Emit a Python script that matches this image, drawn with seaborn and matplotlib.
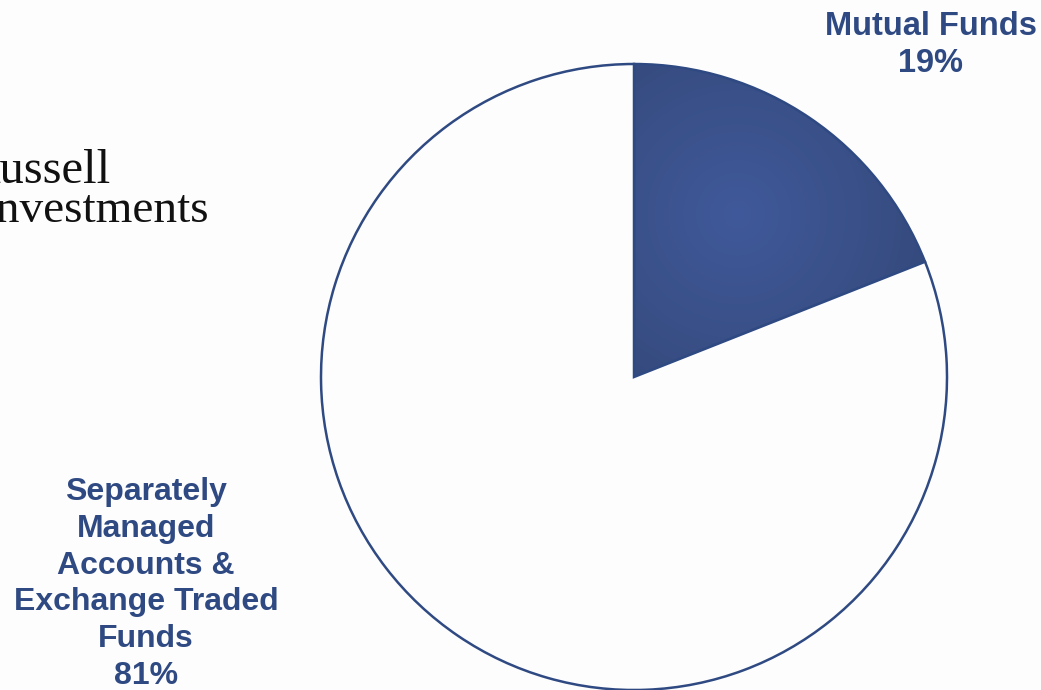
import numpy as np
import matplotlib
matplotlib.use("Agg")
import matplotlib.pyplot as plt
import seaborn as sns

sns.set_theme(style="white")
plt.rcParams['font.family'] = ['Liberation Sans', 'DejaVu Sans']

labels = ["Mutual Funds", "Separately\nManaged\nAccounts &\nExchange Traded\nFunds"]
shares = [19, 81]

navy = "#2F4A82"
fill_mid = "#40599A"
fill_edge = "#334878"

fig = plt.figure(figsize=(10.41, 6.90), dpi=100)
fig.patch.set_facecolor("#FDFDFD")
ax = fig.add_axes([0, 0, 1, 1])
ax.set_facecolor("#FDFDFD")

cx, cy, r = 634, 690 - 377, 313
wedges, _ = ax.pie(shares, colors=["none", "#FDFDFD"], startangle=90, counterclock=False,
                   center=(cx, cy), radius=r, frame=True,
                   wedgeprops=dict(edgecolor=navy, linewidth=1.8))
ax.set_xlim(0, 1041)
ax.set_ylim(0, 690)
ax.set_aspect("equal")
ax.set_axis_off()

# radial gradient for the mutual funds slice
gx = np.linspace(cx, cx + r, 300)
gy = np.linspace(cy, cy + r, 300)
X, Y = np.meshgrid(gx, gy)
d = np.hypot(X - (cx + 0.33 * r), Y - (cy + 0.52 * r)) / (0.75 * r)
d = np.clip(d, 0, 1)
c0 = np.array(matplotlib.colors.to_rgb(fill_mid))
c1 = np.array(matplotlib.colors.to_rgb(fill_edge))
img = c0[None, None, :] * (1 - d[..., None]) + c1[None, None, :] * d[..., None]
im = ax.imshow(img, extent=(cx, cx + r, cy, cy + r), origin="lower", zorder=0.5)
im.set_clip_path(wedges[0])
wedges[0].set_zorder(1)
wedges[1].set_zorder(1)

# labels
ax.text(931, 690 - 45, f"{labels[0]}\n{shares[0]}%", ha="center", va="center",
        fontsize=23.5, fontweight="bold", color=navy, linespacing=1.27)
ax.text(146, 690 - 584, f"{labels[1]}\n{shares[1]}%", ha="center", va="center",
        fontsize=23, fontweight="bold", color=navy, linespacing=1.3)

# logo (cut off at left edge, as in the source slide)
ax.text(111, 690 - 183, "Russell", ha="right", va="baseline", fontsize=35,
        family="Liberation Serif", color="#111111")
ax.text(209, 690 - 222, "Investments", ha="right", va="baseline", fontsize=34,
        family="Liberation Serif", color="#111111")

fig.savefig("out.png", dpi=100, facecolor=fig.get_facecolor())
